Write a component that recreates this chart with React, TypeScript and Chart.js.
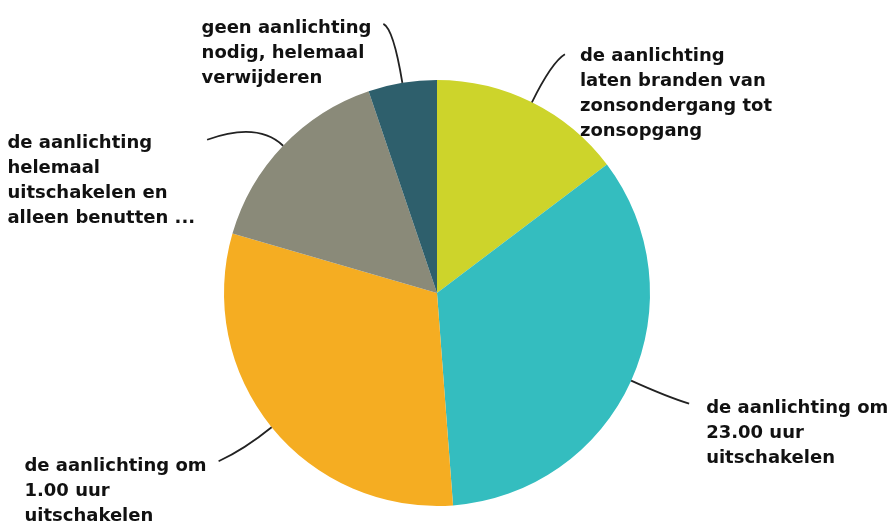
import React, { useEffect, useRef } from "react";
import { Chart, registerables } from "chart.js";

Chart.register(...registerables);

// ---- data ----
const categories = [
  "de aanlichting laten branden van zonsondergang tot zonsopgang",
  "de aanlichting om 23.00 uur uitschakelen",
  "de aanlichting om 1.00 uur uitschakelen",
  "de aanlichting helemaal uitschakelen en alleen benutten ...",
  "geen aanlichting nodig, helemaal verwijderen",
];
const labelLines = [
  ["de aanlichting", "laten branden van", "zonsondergang tot", "zonsopgang"],
  ["de aanlichting om", "23.00 uur", "uitschakelen"],
  ["de aanlichting om", "1.00 uur", "uitschakelen"],
  ["de aanlichting", "helemaal", "uitschakelen en", "alleen benutten ..."],
  ["geen aanlichting", "nodig, helemaal", "verwijderen"],
];
const values = [14.7, 34.1, 30.7, 15.3, 5.2];
const colors = ["#cdd42b", "#34bdbf", "#f5ad22", "#8a8a79", "#2e5f6c"];

// ---- layout (label placement relative to slice edge) ----
const leaderLayout = [
  { dx: 33, dy: -48, ctrl: 45, side: "right", gap: 15, base: 7 },
  { dx: 58, dy: 23, ctrl: 40, side: "right", gap: 17, base: 9 },
  { dx: -53, dy: 34, ctrl: 35, side: "left", gap: 12, base: 10 },
  { dx: -76, dy: -6, ctrl: 35, side: "left", gap: 12, base: 8 },
  { dx: -19, dy: -59, ctrl: 55, side: "left", gap: 12, base: 9 },
];
const LINE_HEIGHT = 25;
const FONT = "bold 18px 'DejaVu Sans', Arial, sans-serif";

const labelPlugin = {
  id: "pieLabels",
  afterDatasetsDraw(chart: any) {
    const ctx = chart.ctx as CanvasRenderingContext2D;
    const meta = chart.getDatasetMeta(0);
    meta.data.forEach((arc: any, i: number) => {
      const { x, y, startAngle, endAngle, outerRadius } = arc.getProps(
        ["x", "y", "startAngle", "endAngle", "outerRadius"],
        true
      );
      const mid = (startAngle + endAngle) / 2;
      const ux = Math.cos(mid);
      const uy = Math.sin(mid);
      const sx = x + ux * outerRadius;
      const sy = y + uy * outerRadius;
      const L = leaderLayout[i];
      const cx = sx + ux * L.ctrl;
      const cy = sy + uy * L.ctrl;
      const ex = sx + L.dx;
      const ey = sy + L.dy;
      ctx.save();
      ctx.strokeStyle = "#222222";
      ctx.lineWidth = 1.8;
      ctx.beginPath();
      ctx.moveTo(sx, sy);
      ctx.quadraticCurveTo(cx, cy, ex, ey);
      ctx.stroke();

      ctx.font = FONT;
      ctx.fillStyle = "#111111";
      ctx.textAlign = "left";
      ctx.textBaseline = "alphabetic";
      const lines = labelLines[i];
      const w = Math.max(...lines.map((l) => ctx.measureText(l).width));
      const left = L.side === "right" ? ex + L.gap : ex - L.gap - w;
      lines.forEach((ln, k) => {
        ctx.fillText(ln, left, ey + L.base + k * LINE_HEIGHT);
      });
      ctx.restore();
    });
  },
};

export default function App() {
  const canvasRef = useRef<HTMLCanvasElement | null>(null);

  useEffect(() => {
    document.body.style.margin = "0";
    const canvas = canvasRef.current;
    if (!canvas) return;
    const chart = new Chart(canvas, {
      type: "pie",
      data: {
        labels: categories,
        datasets: [
          {
            data: values,
            backgroundColor: colors,
            borderWidth: 0,
          },
        ],
      },
      options: {
        responsive: false,
        animation: false,
        events: [],
        layout: { padding: { left: 224, right: 246, top: 80, bottom: 16 } },
        plugins: {
          legend: { display: false },
          tooltip: { enabled: false },
        },
      },
      plugins: [labelPlugin],
    });
    return () => chart.destroy();
  }, []);

  return (
    <div style={{ width: 896, height: 522, background: "#ffffff" }}>
      <canvas ref={canvasRef} width={896} height={522} style={{ display: "block" }} />
    </div>
  );
}
